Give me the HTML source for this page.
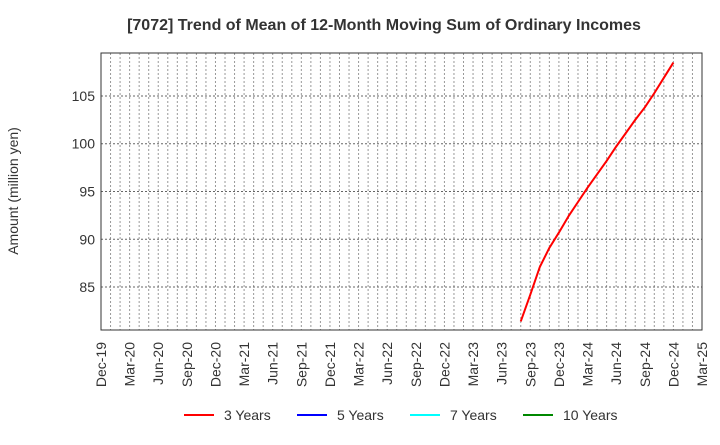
<!DOCTYPE html>
<html><head><meta charset="utf-8"><style>
body{margin:0;background:#fff;font-family:"Liberation Sans",sans-serif;}
svg text{font-family:"Liberation Sans",sans-serif;fill:#333;}
</style></head><body>
<svg id="chart" width="720" height="440">
<text x="384" y="30" text-anchor="middle" font-size="16" font-weight="bold">[7072]  Trend of Mean of 12-Month Moving Sum of Ordinary Incomes</text>
<text transform="translate(18,191) rotate(-90)" text-anchor="middle" font-size="14">Amount (million yen)</text>
<g id="grid"></g><g id="axes"></g><g id="series"></g>
<g>
<line x1="184" y1="415" x2="214" y2="415" stroke="#f00" stroke-width="2"/><text x="224" y="420" font-size="14">3 Years</text>
<line x1="297" y1="415" x2="327" y2="415" stroke="#00f" stroke-width="2"/><text x="337" y="420" font-size="14">5 Years</text>
<line x1="410" y1="415" x2="440" y2="415" stroke="#0ff" stroke-width="2"/><text x="450" y="420" font-size="14">7 Years</text>
<line x1="523" y1="415" x2="553" y2="415" stroke="#080" stroke-width="2"/><text x="563" y="420" font-size="14">10 Years</text>
</g>
</svg>
<script>
const xLabels=["Dec-19","Mar-20","Jun-20","Sep-20","Dec-20","Mar-21","Jun-21","Sep-21","Dec-21","Mar-22","Jun-22","Sep-22","Dec-22","Mar-23","Jun-23","Sep-23","Dec-23","Mar-24","Jun-24","Sep-24","Dec-24","Mar-25"];
const yTicks=[85,90,95,100,105];
const startMonth=44; // Aug-23, months after Dec-19
const series3=[81.4,84.2,87.1,89.1,90.7,92.4,93.9,95.4,96.8,98.2,99.7,101.1,102.5,103.8,105.3,106.9,108.5];
const L=101,R=702,T=53,B=330,months=63,yMin=80.5,yMax=109.5;
const xs=m=>L+(R-L)*m/months;
const ys=v=>B-(B-T)*(v-yMin)/(yMax-yMin);
const NS="http://www.w3.org/2000/svg";
function mk(tag,attrs,parent){const e=document.createElementNS(NS,tag);for(const k in attrs)e.setAttribute(k,attrs[k]);parent.appendChild(e);return e;}
const grid=document.getElementById('grid'),axes=document.getElementById('axes'),ser=document.getElementById('series');
for(let m=1;m<months;m++){const l=mk('line',{x1:xs(m),x2:xs(m),y1:T,y2:B,stroke:'#999','stroke-dasharray':'2,2','stroke-width':1},grid);

}
yTicks.forEach(v=>{const l=mk('line',{x1:L,x2:R,y1:ys(v),y2:ys(v),stroke:'#666','stroke-dasharray':'2,2','stroke-width':1},grid);


const t=mk('text',{x:L-6,y:ys(v)+5,'text-anchor':'end','font-size':14},axes);t.textContent=v;

});
xLabels.forEach((s,i)=>{const x=xs(i*3);const t=mk('text',{transform:`translate(${x+5},${B+12}) rotate(-90)`,'text-anchor':'end','font-size':14},axes);t.textContent=s;

});
const fr=mk('rect',{x:L,y:T,width:R-L,height:B-T,fill:'none',stroke:'#333','stroke-width':1},axes);


const pts=series3.map((v,i)=>xs(startMonth+i)+','+ys(v)).join(' ');
const pl=mk('polyline',{points:pts,fill:'none',stroke:'#f00','stroke-width':2,'stroke-linejoin':'round'},ser);


</script>
</body></html>
